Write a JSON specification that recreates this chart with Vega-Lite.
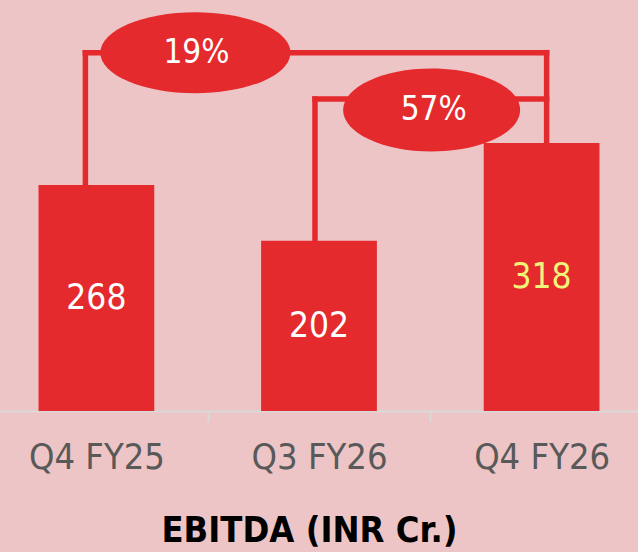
{
  "$schema": "https://vega.github.io/schema/vega-lite/v6.json",
  "width": 638,
  "height": 411,
  "autosize": {"type": "none"},
  "padding": {"left": 0, "right": 0, "top": 0, "bottom": 141},
  "background": "#EEC5C6",
  "config": {
    "view": {"stroke": null},
    "font": "DejaVu Sans Condensed, sans-serif"
  },
  "datasets": {
    "ebitda": [
      {"cat": "Q4 FY25", "value": 268},
      {"cat": "Q3 FY26", "value": 202},
      {"cat": "Q4 FY26", "value": 318}
    ],
    "growth": [
      {"label": "19%", "from": "Q4 FY25", "to": "Q4 FY26"},
      {"label": "57%", "from": "Q3 FY26", "to": "Q4 FY26"}
    ]
  },
  "layer": [
    {
      "data": {"name": "ebitda"},
      "mark": {"type": "bar", "color": "#E42A2C"},
      "encoding": {
        "x": {
          "field": "cat", "type": "nominal", "sort": null,
          "scale": {"type": "band", "paddingInner": 0.48, "paddingOuter": 0.173, "domain": ["Q4 FY25", "Q3 FY26", "Q4 FY26"]},
          "axis": {
            "labelAngle": 0,
            "labelFontSize": 36,
            "labelColor": "#595959",
            "labelPadding": 18,
            "labelOffset": -111.3,
            "domainColor": "#D9D9D9",
            "domainWidth": 2,
            "tickOffset": 111.3,
            "tickColor": "#D9D9D9",
            "tickWidth": 2,
            "tickSize": 11,
            "title": "EBITDA (INR Cr.)",
            "titleFontSize": 36,
            "titleFontWeight": "bold",
            "titleColor": "#000000",
            "titlePadding": 38,
            "titleX": 309
          }
        },
        "y": {
          "field": "value", "type": "quantitative",
          "scale": {"domain": [0, 487.5], "nice": false},
          "axis": null
        }
      }
    },
    {
      "data": {"name": "ebitda"},
      "transform": [{"calculate": "datum.value / 2", "as": "mid"}],
      "mark": {"type": "text", "fontSize": 35, "baseline": "middle", "align": "center"},
      "encoding": {
        "x": {"field": "cat", "type": "nominal", "sort": null},
        "y": {"field": "mid", "type": "quantitative"},
        "text": {"field": "value", "type": "quantitative"},
        "color": {"condition": {"test": "datum.cat === 'Q4 FY26'", "value": "#F1F47A"}, "value": "#FFFFFF"}
      }
    },
    {
      "data": {"name": "ebitda"},
      "transform": [{"filter": "datum.cat === 'Q4 FY25'"}],
      "mark": {"type": "rule", "color": "#E42A2C", "strokeWidth": 5.5, "xOffset": -11, "strokeCap": "square"},
      "encoding": {
        "x": {"field": "cat", "type": "nominal", "sort": null},
        "y": {"field": "value", "type": "quantitative"},
        "y2": {"datum": 425}
      }
    },
    {
      "data": {"name": "ebitda"},
      "transform": [{"filter": "datum.cat === 'Q3 FY26'"}],
      "mark": {"type": "rule", "color": "#E42A2C", "strokeWidth": 5.5, "xOffset": -4, "strokeCap": "square"},
      "encoding": {
        "x": {"field": "cat", "type": "nominal", "sort": null},
        "y": {"field": "value", "type": "quantitative"},
        "y2": {"datum": 370}
      }
    },
    {
      "data": {"name": "ebitda"},
      "transform": [{"filter": "datum.cat === 'Q4 FY26'"}],
      "mark": {"type": "rule", "color": "#E42A2C", "strokeWidth": 5.5, "xOffset": 5, "strokeCap": "square"},
      "encoding": {
        "x": {"field": "cat", "type": "nominal", "sort": null},
        "y": {"field": "value", "type": "quantitative"},
        "y2": {"datum": 425}
      }
    },
    {
      "data": {"name": "growth"},
      "transform": [{"filter": "datum.label === '19%'"}],
      "mark": {"type": "rule", "color": "#E42A2C", "strokeWidth": 5.5, "xOffset": -11, "x2Offset": 5, "strokeCap": "square"},
      "encoding": {
        "x": {"field": "from", "type": "nominal", "sort": null},
        "x2": {"field": "to"},
        "y": {"datum": 425}
      }
    },
    {
      "data": {"name": "growth"},
      "transform": [{"filter": "datum.label === '57%'"}],
      "mark": {"type": "rule", "color": "#E42A2C", "strokeWidth": 5.5, "xOffset": -4, "x2Offset": 5, "strokeCap": "square"},
      "encoding": {
        "x": {"field": "from", "type": "nominal", "sort": null},
        "x2": {"field": "to"},
        "y": {"datum": 370}
      }
    },
    {
      "data": {"name": "growth"},
      "transform": [{"filter": "datum.label === '19%'"}],
      "mark": {"type": "point", "filled": true, "opacity": 1, "color": "#E42A2C", "strokeWidth": 0, "size": 36100, "shape": "M -1 0 A 1 0.426 0 1 1 1 0 A 1 0.426 0 1 1 -1 0 Z", "xOffset": 99},
      "encoding": {
        "x": {"field": "from", "type": "nominal", "sort": null},
        "y": {"datum": 425}
      }
    },
    {
      "data": {"name": "growth"},
      "transform": [{"filter": "datum.label === '19%'"}],
      "mark": {"type": "text", "fontSize": 33, "color": "#FFFFFF", "baseline": "middle", "align": "center", "xOffset": 100},
      "encoding": {
        "x": {"field": "from", "type": "nominal", "sort": null},
        "y": {"datum": 425},
        "text": {"field": "label"}
      }
    },
    {
      "data": {"name": "growth"},
      "transform": [{"filter": "datum.label === '57%'"}],
      "mark": {"type": "point", "filled": true, "opacity": 1, "color": "#E42A2C", "strokeWidth": 0, "size": 31329, "shape": "M -1 0 A 1 0.469 0 1 1 1 0 A 1 0.469 0 1 1 -1 0 Z", "xOffset": -110},
      "encoding": {
        "x": {"field": "to", "type": "nominal", "sort": null},
        "y": {"datum": 357}
      }
    },
    {
      "data": {"name": "growth"},
      "transform": [{"filter": "datum.label === '57%'"}],
      "mark": {"type": "text", "fontSize": 33, "color": "#FFFFFF", "baseline": "middle", "align": "center", "xOffset": -108},
      "encoding": {
        "x": {"field": "to", "type": "nominal", "sort": null},
        "y": {"datum": 357},
        "text": {"field": "label"}
      }
    }
  ]
}
